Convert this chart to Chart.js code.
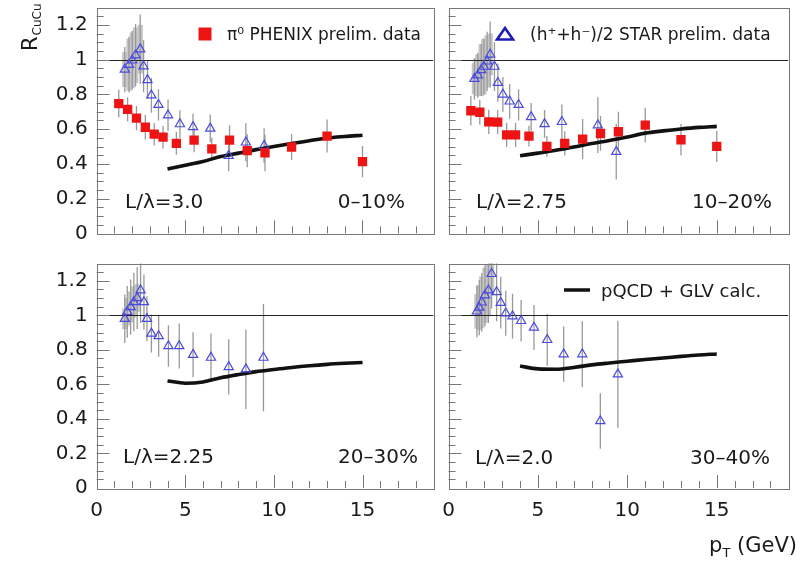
<!DOCTYPE html>
<html>
<head>
<meta charset="utf-8">
<script src="https://cdn.jsdelivr.net/npm/chart.js@4.4.1/dist/chart.umd.min.js"></script>
<style>
html, body { margin: 0; padding: 0; background: #fff; }
#wrap { position: relative; width: 810px; height: 564px; overflow: hidden; }
.pane { position: absolute; }
</style>
</head>
<body>
<div id="wrap">
  <div class="pane" style="left:0;top:0;width:440px;height:240px"><canvas id="c010"></canvas></div>
  <div class="pane" style="left:440px;top:0;width:370px;height:240px"><canvas id="c1020"></canvas></div>
  <div class="pane" style="left:0;top:250px;width:440px;height:314px"><canvas id="c2030"></canvas></div>
  <div class="pane" style="left:440px;top:250px;width:370px;height:314px"><canvas id="c3040"></canvas></div>
</div>
<script>
// ---- data ----
const xTickVals = [0, 5, 10, 15];
const yTickVals = [0, 0.2, 0.4, 0.6, 0.8, 1, 1.2];
const centralities = ['0–10%', '10–20%', '20–30%', '30–40%'];
const lOverLambda = ['L/λ=3.0', 'L/λ=2.75', 'L/λ=2.25', 'L/λ=2.0'];

// PHENIX pi0 (upper panels)
const phenixPt = [1.25, 1.75, 2.25, 2.75, 3.25, 3.75, 4.5, 5.5, 6.5, 7.5, 8.5, 9.5, 11, 13, 15];
const phenix010 = [0.747, 0.714, 0.663, 0.611, 0.571, 0.554, 0.518, 0.537, 0.486, 0.537, 0.476, 0.463, 0.497, 0.56, 0.413];
const phenix010Err = [0.08, 0.07, 0.07, 0.07, 0.065, 0.065, 0.065, 0.07, 0.065, 0.085, 0.095, 0.105, 0.075, 0.095, 0.09];
const phenix1020 = [0.706, 0.697, 0.642, 0.640, 0.567, 0.567, 0.560, 0.501, 0.518, 0.543, 0.575, 0.585, 0.623, 0.539, 0.501];
const phenix1020Err = [0.085, 0.07, 0.07, 0.07, 0.07, 0.07, 0.06, 0.06, 0.07, 0.115, 0.1, 0.115, 0.1, 0.09, 0.09];

// STAR (h+ + h-)/2
const star010Pt = [1.59, 1.83, 2.01, 2.20, 2.46, 2.65, 2.87, 3.09, 3.49, 4.03, 4.70, 5.44, 6.41, 7.45, 8.42, 9.45];
const star010 = [0.943, 0.971, 0.996, 1.025, 1.06, 0.962, 0.883, 0.795, 0.74, 0.68, 0.629, 0.613, 0.604, 0.447, 0.524, 0.505];
const star010Err = [0.13, 0.16, 0.17, 0.18, 0.2, 0.15, 0.11, 0.1, 0.09, 0.09, 0.08, 0.075, 0.08, 0.09, 0.11, 0.1];
const star010Sys = [0.1, 0.15, 0.16, 0.16, 0.14, null, null, null, null, null, null, null, null, null, null, null];

const star1020Pt = [1.45, 1.64, 1.83, 1.98, 2.16, 2.33, 2.57, 2.76, 3.04, 3.42, 3.92, 4.62, 5.37, 6.34, 8.35, 9.38];
const star1020 = [0.89, 0.91, 0.94, 0.96, 0.99, 1.03, 0.96, 0.867, 0.80, 0.76, 0.74, 0.67, 0.63, 0.642, 0.623, 0.47];
const star1020Err = [0.12, 0.13, 0.15, 0.16, 0.17, 0.19, 0.14, 0.11, 0.1, 0.1, 0.09, 0.08, 0.08, 0.1, 0.16, 0.16];
const star1020Sys = [0.09, 0.12, 0.15, 0.16, 0.15, 0.12, null, null, null, null, null, null, null, null, null, null];

const star2030Pt = [1.59, 1.73, 1.92, 2.10, 2.29, 2.48, 2.67, 2.84, 3.09, 3.50, 4.05, 4.66, 5.44, 6.45, 7.45, 8.42, 9.41];
const star2030 = [0.98, 1.02, 1.048, 1.077, 1.10, 1.145, 1.077, 0.98, 0.895, 0.88, 0.822, 0.822, 0.772, 0.755, 0.701, 0.688, 0.755];
const star2030Err = [0.14, 0.15, 0.16, 0.17, 0.18, 0.19, 0.16, 0.13, 0.11, 0.12, 0.12, 0.13, 0.13, 0.14, 0.16, 0.23, 0.31];
const star2030Sys = [0.06, 0.08, 0.09, 0.09, 0.08, null, null, null, null, null, null, null, null, null, null, null, null];

const star3040Pt = [1.59, 1.72, 1.86, 2.04, 2.23, 2.41, 2.69, 2.92, 3.2, 3.58, 4.06, 4.78, 5.52, 6.44, 7.48, 8.49, 9.47];
const star3040 = [1.023, 1.045, 1.075, 1.116, 1.145, 1.24, 1.135, 1.073, 1.012, 0.995, 0.968, 0.929, 0.858, 0.775, 0.775, 0.388, 0.659];
const star3040Err = [0.15, 0.16, 0.17, 0.18, 0.19, 0.2, 0.17, 0.15, 0.13, 0.13, 0.12, 0.13, 0.15, 0.16, 0.19, 0.16, 0.31];
const star3040Sys = [0.1, 0.13, 0.15, 0.16, 0.15, 0.12, null, null, null, null, null, null, null, null, null, null, null];

// pQCD + GLV curves
const glvPt = [4, 5, 6, 7, 8, 9, 10, 11, 12, 13, 14, 15];
const glv010 = [0.37, 0.392, 0.414, 0.442, 0.462, 0.482, 0.50, 0.517, 0.533, 0.549, 0.558, 0.565];
const glv1020 = [0.447, 0.462, 0.478, 0.497, 0.517, 0.535, 0.555, 0.577, 0.59, 0.601, 0.61, 0.616];
const glv2030 = [0.62, 0.607, 0.614, 0.638, 0.657, 0.674, 0.686, 0.698, 0.708, 0.716, 0.722, 0.727];
const glv3040 = [0.706, 0.69, 0.688, 0.698, 0.713, 0.724, 0.734, 0.744, 0.753, 0.762, 0.77, 0.776];

// ---- look ----
const FONT = 'DejaVu Sans';
const RED = '#ee1414';
const BLUE = '#4a4ae0';
const INK = '#1a1a1a';

function toPts(xs, ys) {
    return xs.map((x, i) => ({ x: x, y: ys[i] }));
}

// error bars, systematic boxes, unity line, frame, inward ticks and texts
const decor = {
    id: 'decor',
    beforeDatasetsDraw(chart, args, opts) {
        const { ctx, chartArea: a, scales: { x, y } } = chart;
        ctx.save();
        ctx.beginPath();
        ctx.rect(a.left, a.top, a.right - a.left, a.bottom - a.top);
        ctx.clip();

        chart.data.datasets.forEach(ds => {
            if (!ds.sys) return;
            ctx.fillStyle = '#c6c6c6';
            ds.data.forEach((p, i) => {
                const s = ds.sys[i];
                if (!s) return;
                const x0 = x.getPixelForValue(p.x - 0.15), x1 = x.getPixelForValue(p.x + 0.15);
                const y0 = y.getPixelForValue(p.y + s), y1 = y.getPixelForValue(p.y - s);
                ctx.fillRect(x0, y0, x1 - x0, y1 - y0);
            });
        });

        ctx.strokeStyle = '#999';
        ctx.lineWidth = 1.3;
        chart.data.datasets.forEach(ds => {
            if (!ds.errs) return;
            ds.data.forEach((p, i) => {
                const px = x.getPixelForValue(p.x);
                ctx.beginPath();
                ctx.moveTo(px, y.getPixelForValue(p.y + ds.errs[i]));
                ctx.lineTo(px, y.getPixelForValue(p.y - ds.errs[i]));
                ctx.stroke();
            });
        });

        const y1 = Math.round(y.getPixelForValue(1)) + 0.5;
        ctx.strokeStyle = '#222';
        ctx.lineWidth = 1;
        ctx.beginPath();
        ctx.moveTo(a.left, y1);
        ctx.lineTo(a.right, y1);
        ctx.stroke();
        ctx.restore();
    },
    afterDraw(chart, args, opts) {
        const { ctx, chartArea: a, scales: { x, y } } = chart;
        ctx.save();
        ctx.strokeStyle = '#777';
        ctx.lineWidth = 1;
        ctx.strokeRect(Math.round(a.left) + 0.5, Math.round(a.top) + 0.5,
            Math.round(a.right - a.left), Math.round(a.bottom - a.top));

        // inward ticks, left and bottom only
        ctx.beginPath();
        for (let k = 1; k < 19; k++) {
            const px = Math.round(x.getPixelForValue(k)) + 0.5;
            const len = k % 5 === 0 ? 13 : 7;
            ctx.moveTo(px, a.bottom);
            ctx.lineTo(px, a.bottom - len);
        }
        for (let j = 1; j < 26; j++) {
            const py = Math.round(y.getPixelForValue(j * 0.05)) + 0.5;
            const len = j % 4 === 0 ? 13 : 7;
            ctx.moveTo(a.left, py);
            ctx.lineTo(a.left + len, py);
        }
        ctx.stroke();

        ctx.fillStyle = INK;
        ctx.textBaseline = 'alphabetic';
        (opts.texts || []).forEach(t => {
            ctx.font = (t.size || 20) + 'px "' + FONT + '"';
            ctx.textAlign = t.align || 'left';
            ctx.fillText(t.text, t.x, t.y);
        });

        const m = opts.marker;
        if (m) {
            if (m.kind === 'rect') {
                ctx.fillStyle = RED;
                ctx.fillRect(m.x - 6.5, m.y - 6.5, 13, 13);
            } else if (m.kind === 'tri') {
                ctx.strokeStyle = '#1c1cb4';
                ctx.lineWidth = 2.6;
                ctx.beginPath();
                ctx.moveTo(m.x, m.y - 6);
                ctx.lineTo(m.x + 8, m.y + 5.5);
                ctx.lineTo(m.x - 8, m.y + 5.5);
                ctx.closePath();
                ctx.stroke();
            } else if (m.kind === 'line') {
                ctx.strokeStyle = '#111';
                ctx.lineWidth = 3.5;
                ctx.beginPath();
                ctx.moveTo(m.x - 13, m.y);
                ctx.lineTo(m.x + 13, m.y);
                ctx.stroke();
            }
        }

        if (opts.yTitle) {
            // R_CuCu, rotated
            ctx.fillStyle = INK;
            ctx.translate(37, 51);
            ctx.rotate(-Math.PI / 2);
            ctx.textAlign = 'left';
            ctx.font = '21px "' + FONT + '"';
            ctx.fillText('R', 0, 0);
            const w = ctx.measureText('R').width;
            ctx.font = '12px "' + FONT + '"';
            ctx.fillText('CuCu', w + 1, 4);
        }
        if (opts.xTitle) {
            ctx.fillStyle = INK;
            ctx.textAlign = 'left';
            const big = '21px "' + FONT + '"', small = '13px "' + FONT + '"';
            ctx.font = big;
            const w1 = ctx.measureText('p').width, w3 = ctx.measureText(' (GeV)').width;
            ctx.font = small;
            const w2 = ctx.measureText('T').width;
            const x0 = 357 - (w1 + w2 + w3), base = 302;
            ctx.font = big;
            ctx.fillText('p', x0, base);
            ctx.fillText(' (GeV)', x0 + w1 + w2, base);
            ctx.font = small;
            ctx.fillText('T', x0 + w1, base + 5);
        }
        ctx.restore();
    }
};

// stop the scales from reserving room for half tick labels
function noEdgePad(s) {
    s.paddingTop = 0;
    s.paddingBottom = 0;
    s.paddingLeft = 0;
    s.paddingRight = 0;
}

function makePanel(id, p) {
    const datasets = [];
    if (p.phenix) {
        datasets.push({
            label: 'PHENIX', data: toPts(phenixPt, p.phenix), errs: p.phenixErr,
            pointStyle: 'rect', pointRadius: 6.6, backgroundColor: RED, borderColor: RED, borderWidth: 0, order: 1
        });
    }
    datasets.push({
        label: 'STAR', data: toPts(p.starPt, p.star), errs: p.starErr, sys: p.starSys,
        pointStyle: 'triangle', pointRadius: 5.3, backgroundColor: 'rgba(0,0,0,0)', borderColor: BLUE, borderWidth: 1.2, order: 2
    });
    datasets.push({
        type: 'line', label: 'GLV', data: toPts(glvPt, p.glv), borderColor: '#111', borderWidth: 3.6,
        pointRadius: 0, cubicInterpolationMode: 'monotone', fill: false, order: 3
    });

    new Chart(document.getElementById(id), {
        type: 'scatter',
        data: { datasets: datasets },
        options: {
            responsive: true,
            maintainAspectRatio: false,
            animation: false,
            events: [],
            layout: { padding: { top: p.padTop, right: p.padRight, left: 0, bottom: 0 } },
            plugins: {
                legend: { display: false },
                tooltip: { enabled: false },
                decor: { texts: p.texts, marker: p.marker, yTitle: p.yTitle, xTitle: p.xTitle }
            },
            scales: {
                x: {
                    type: 'linear', min: 0, max: 19,
                    afterBuildTicks: s => { s.ticks = xTickVals.map(v => ({ value: v })); },
                    afterFit: s => { s.height = p.xH; noEdgePad(s); },
                    ticks: { display: p.xLabels, padding: 11, color: INK, maxRotation: 0, autoSkip: false, font: { family: FONT, size: 20 } },
                    grid: { display: false, drawTicks: false },
                    border: { display: false }
                },
                y: {
                    type: 'linear', min: 0, max: 1.3,
                    afterBuildTicks: s => { s.ticks = yTickVals.map(v => ({ value: v })); },
                    afterFit: s => { s.width = p.yW; noEdgePad(s); },
                    ticks: {
                        display: p.yLabels, padding: 9, color: INK, font: { family: FONT, size: 20 },
                        callback: v => String(Number(v.toFixed(1)))
                    },
                    grid: { display: false, drawTicks: false },
                    border: { display: false }
                }
            }
        },
        plugins: [decor]
    });
}

makePanel('c010', {
    phenix: phenix010, phenixErr: phenix010Err,
    starPt: star010Pt, star: star010, starErr: star010Err, starSys: star010Sys, glv: glv010,
    padTop: 7.5, padRight: 3.3, yW: 96.6, xH: 6, xLabels: false, yLabels: true, yTitle: true,
    texts: [
        { text: lOverLambda[0], x: 125, y: 208 },
        { text: centralities[0], x: 405, y: 208, align: 'right' },
        { text: 'π⁰ PHENIX prelim. data', x: 227, y: 40, size: 17 }
    ],
    marker: { kind: 'rect', x: 205, y: 34 }
});

makePanel('c1020', {
    phenix: phenix1020, phenixErr: phenix1020Err,
    starPt: star1020Pt, star: star1020, starErr: star1020Err, starSys: star1020Sys, glv: glv1020,
    padTop: 7.5, padRight: 21.7, yW: 8.5, xH: 6, xLabels: false, yLabels: false,
    texts: [
        { text: lOverLambda[1], x: 36, y: 208 },
        { text: centralities[1], x: 332, y: 208, align: 'right' },
        { text: '(h⁺+h⁻)/2 STAR prelim. data', x: 90, y: 40, size: 17 }
    ],
    marker: { kind: 'tri', x: 65, y: 34 }
});

makePanel('c2030', {
    starPt: star2030Pt, star: star2030, starErr: star2030Err, starSys: star2030Sys, glv: glv2030,
    padTop: 13.5, padRight: 3.3, yW: 96.6, xH: 76, xLabels: true, yLabels: true,
    texts: [
        { text: lOverLambda[2], x: 123, y: 213 },
        { text: centralities[2], x: 418, y: 213, align: 'right' }
    ]
});

makePanel('c3040', {
    starPt: star3040Pt, star: star3040, starErr: star3040Err, starSys: star3040Sys, glv: glv3040,
    padTop: 13.5, padRight: 21.7, yW: 8.5, xH: 76, xLabels: true, yLabels: false, xTitle: true,
    texts: [
        { text: lOverLambda[3], x: 35, y: 214 },
        { text: centralities[3], x: 330, y: 214, align: 'right' },
        { text: 'pQCD + GLV calc.', x: 161, y: 47, size: 18 }
    ],
    marker: { kind: 'line', x: 137, y: 40 }
});
</script>
</body>
</html>
